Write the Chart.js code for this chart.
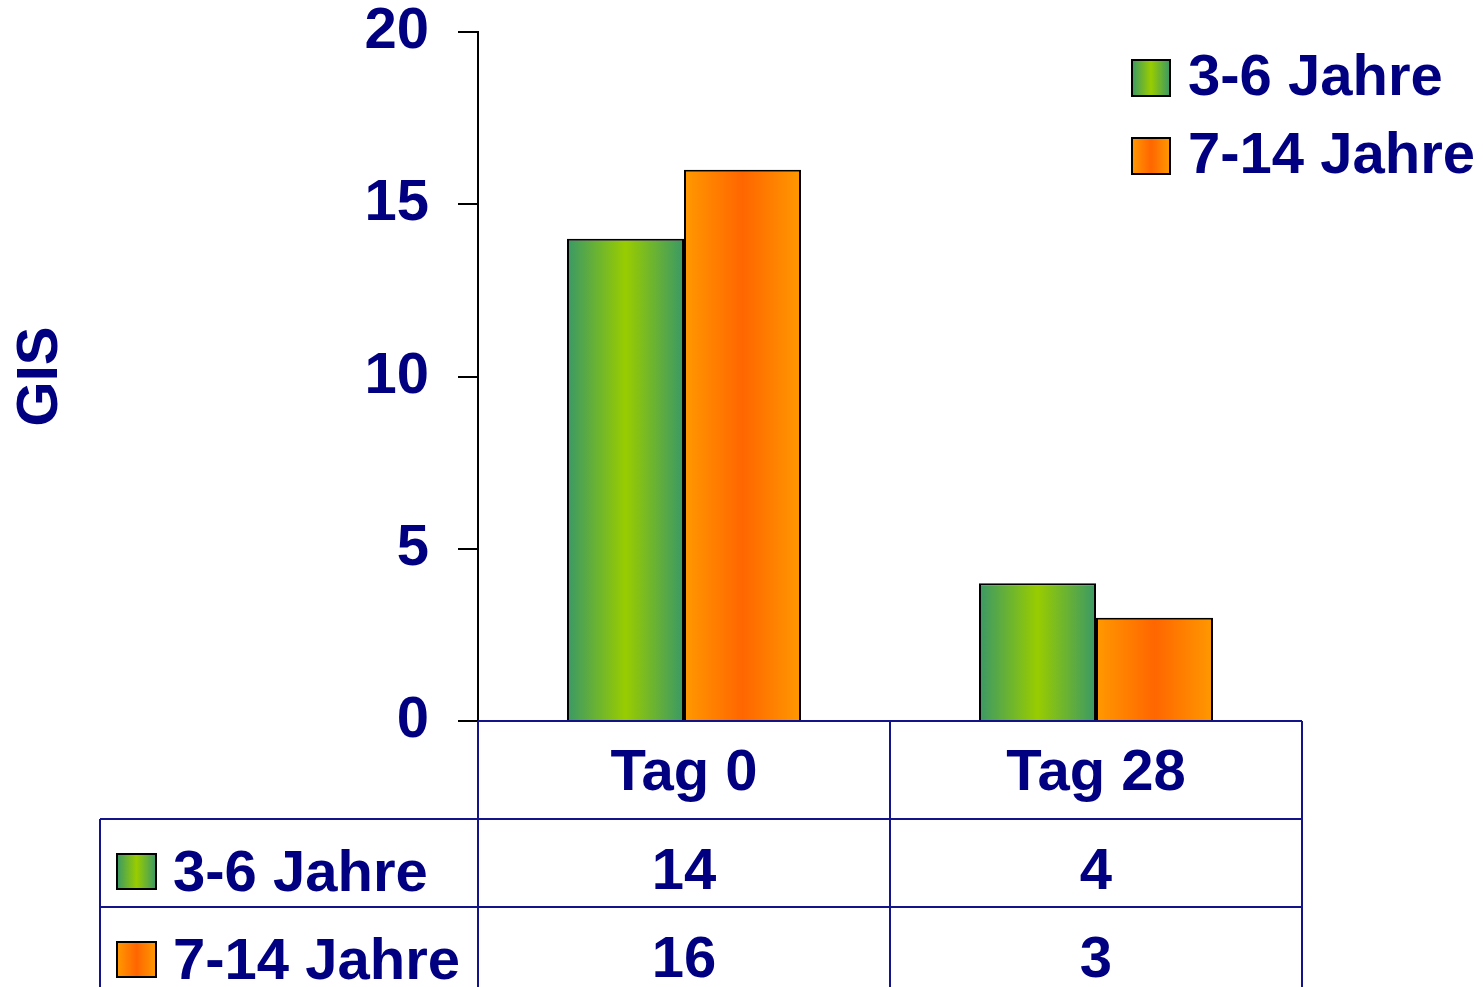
<!DOCTYPE html>
<html>
<head>
<meta charset="utf-8">
<script src="https://cdn.jsdelivr.net/npm/chart.js@4/dist/chart.umd.min.js"></script>
<style>
    html, body { margin: 0; padding: 0; background: #fff; }
    #wrap { width: 1483px; height: 987px; }
</style>
</head>
<body>
<div id="wrap"><canvas id="gisChart"></canvas></div>
<script>
const categories = ['Tag 0', 'Tag 28'];
const seriesLabels = ['3-6 Jahre', '7-14 Jahre'];
const youngValues = [14, 4];
const olderValues = [16, 3];
const yAxisTitle = 'GIS';

const NAVY = '#000080';
const LINE = '#14148a';
const FONT_FAMILY = '"Liberation Sans", Arial, Helvetica, sans-serif';
const BIG_FONT = 'bold 58px ' + FONT_FAMILY;

// horizontal "cylinder" gradients, edge -> centre -> edge
const gradientStops = [
    [[0, '#3a9966'], [0.5, '#99cc00'], [1, '#3a9966']],
    [[0, '#ff9900'], [0.5, '#ff6600'], [1, '#ff9900']]
];

function makeGradient(ctx, x0, x1, stops) {
    const g = ctx.createLinearGradient(x0, 0, x1, 0);
    stops.forEach(function (s) { g.addColorStop(s[0], s[1]); });
    return g;
}

function drawKey(ctx, x, y, w, h, stops) {
    ctx.fillStyle = makeGradient(ctx, x, x + w, stops);
    ctx.fillRect(x, y, w, h);
    ctx.lineWidth = 2;
    ctx.strokeStyle = '#000';
    ctx.strokeRect(x, y, w, h);
}

// scriptable colour so every bar gets its own options object
function placeholderColor(context) {
    return gradientStops[context.datasetIndex][1][1];
}

const gradientBars = {
    id: 'gradientBars',
    beforeDatasetsDraw(chart) {
        const ctx = chart.ctx;
        chart.data.datasets.forEach(function (ds, i) {
            chart.getDatasetMeta(i).data.forEach(function (bar) {
                const p = bar.getProps(['x', 'width'], true);
                bar.options.backgroundColor = makeGradient(ctx, p.x - p.width / 2, p.x + p.width / 2, gradientStops[i]);
            });
        });
    }
};

// data table under the axis + legend in the top right corner
const dataTable = {
    id: 'dataTable',
    afterDraw(chart) {
        const ctx = chart.ctx;
        const area = chart.chartArea;
        const xScale = chart.scales.x;
        const catWidth = (area.right - area.left) / categories.length;
        const headerH = 98;
        const rowH = 88;
        const tableLeft = 100;
        const bottom = chart.height + 10;
        const rows = [youngValues, olderValues];

        ctx.save();
        ctx.strokeStyle = LINE;
        ctx.lineWidth = 2;
        ctx.beginPath();
        ctx.moveTo(area.left, area.bottom);
        ctx.lineTo(area.right, area.bottom);
        for (let i = 0; i <= categories.length; i++) {
            const x = area.left + i * catWidth;
            ctx.moveTo(x, area.bottom);
            ctx.lineTo(x, bottom);
        }
        for (let r = 0; r < rows.length; r++) {
            const y = area.bottom + headerH + r * rowH;
            ctx.moveTo(tableLeft, y);
            ctx.lineTo(area.right, y);
        }
        ctx.moveTo(tableLeft, area.bottom + headerH);
        ctx.lineTo(tableLeft, bottom);
        ctx.stroke();

        ctx.font = BIG_FONT;
        ctx.fillStyle = NAVY;
        ctx.textBaseline = 'alphabetic';
        ctx.textAlign = 'center';
        categories.forEach(function (c, i) {
            ctx.fillText(c, xScale.getPixelForValue(i), area.bottom + 69);
        });
        rows.forEach(function (vals, r) {
            const top = area.bottom + headerH + r * rowH;
            vals.forEach(function (v, i) {
                ctx.fillStyle = NAVY;
                ctx.textAlign = 'center';
                ctx.fillText(String(v), xScale.getPixelForValue(i), top + 70);
            });
            drawKey(ctx, 117, top + 35, 39, 35, gradientStops[r]);
            ctx.fillStyle = NAVY;
            ctx.textAlign = 'left';
            ctx.fillText(seriesLabels[r], 173, top + 72);
        });

        // legend
        seriesLabels.forEach(function (label, i) {
            const y = 60 + i * 78;
            drawKey(ctx, 1132, y, 38, 36, gradientStops[i]);
            ctx.fillStyle = NAVY;
            ctx.textAlign = 'left';
            ctx.fillText(label, 1188, y + 35);
        });
        ctx.restore();
    }
};

new Chart(document.getElementById('gisChart'), {
    type: 'bar',
    data: {
        labels: categories,
        datasets: [{
            label: seriesLabels[0],
            data: youngValues,
            backgroundColor: placeholderColor,
            borderColor: '#000',
            borderWidth: 2
        }, {
            label: seriesLabels[1],
            data: olderValues,
            backgroundColor: placeholderColor,
            borderColor: '#000',
            borderWidth: 2
        }]
    },
    options: {
        responsive: true,
        maintainAspectRatio: false,
        animation: false,
        layout: {
            padding: { top: 32, right: 181, bottom: 266, left: 0 }
        },
        datasets: {
            bar: { categoryPercentage: 0.568, barPercentage: 1 }
        },
        plugins: {
            legend: { display: false },
            tooltip: { enabled: false }
        },
        scales: {
            x: { display: false },
            y: {
                min: 0,
                max: 20,
                afterFit: function (scale) {
                    scale.width = 478;
                    scale.paddingTop = 0;
                    scale.paddingBottom = 0;
                },
                ticks: {
                    stepSize: 5,
                    color: NAVY,
                    padding: 29,
                    font: { family: FONT_FAMILY, size: 58, weight: 'bold', lineHeight: 1 }
                },
                grid: {
                    drawOnChartArea: false,
                    color: '#000',
                    lineWidth: 2,
                    tickLength: 20
                },
                border: { color: '#000', width: 2 },
                title: {
                    display: true,
                    text: yAxisTitle,
                    color: NAVY,
                    padding: { top: 6, bottom: 0 },
                    font: { family: FONT_FAMILY, size: 58, weight: 'bold' }
                }
            }
        }
    },
    plugins: [gradientBars, dataTable]
});
</script>
</body>
</html>
